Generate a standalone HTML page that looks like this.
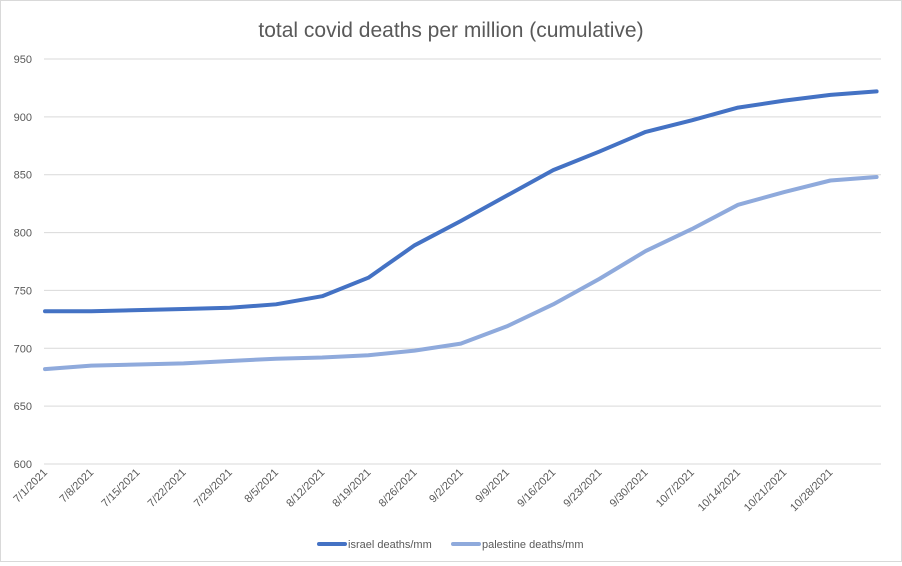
<!DOCTYPE html>
<html><head><meta charset="utf-8"><style>
body{margin:0;background:#fff;font-family:"Liberation Sans",sans-serif}
#wrap{position:relative;width:900px;height:560px;border:1px solid #d9d9d9;}
</style></head><body>
<div id="wrap">
<svg id="chart" width="900" height="560"></svg>
</div>
<script>
const yTicks=[600,650,700,750,800,850,900,950];
const days=[0,7,14,21,28,35,42,49,56,63,70,77,84,91,98,105,112,119,126];
const israel=[732,732,733,734,735,738,745,761,789,810,832,854,870,887,897,908,914,919,922];
const palestine=[682,685,686,687,689,691,692,694,698,704,719,738,760,784,803,824,835,845,848];
const xLabels=["7/1/2021","7/8/2021","7/15/2021","7/22/2021","7/29/2021","8/5/2021","8/12/2021","8/19/2021","8/26/2021","9/2/2021","9/9/2021","9/16/2021","9/23/2021","9/30/2021","10/7/2021","10/14/2021","10/21/2021","10/28/2021"];
const NS="http://www.w3.org/2000/svg";
const svg=document.getElementById('chart');
const x=d=>44+d*6.6;
const y=v=>463-(v-600)*(405/350);
function el(t,a,p){const e=document.createElementNS(NS,t);for(const k in a)e.setAttribute(k,a[k]);(p||svg).appendChild(e);return e;}
let t=el('text',{x:450,y:36,'text-anchor':'middle','font-size':21,fill:'#595959'});
t.textContent='total covid deaths per million (cumulative)';

yTicks.forEach(v=>{
 const g=el('line',{x1:43,x2:880,y1:y(v),y2:y(v),stroke:'#d9d9d9','stroke-width':1});
 
 const l=el('text',{x:31,y:y(v)+4,'text-anchor':'end','font-size':11,fill:'#595959'});
 l.textContent=v;
 
});
xLabels.forEach((s,i)=>{
 const xx=x(i*7)+3,yy=472;
 const l=el('text',{x:xx,y:yy,'text-anchor':'end','font-size':11,fill:'#595959',transform:`rotate(-45 ${xx} ${yy})`});
 l.textContent=s;
 
});
function series(vals,col,name){
 const p=el('polyline',{points:days.map((d,i)=>x(d)+','+y(vals[i])).join(' '),fill:'none',stroke:col,'stroke-width':4,'stroke-linejoin':'round','stroke-linecap':'round'});
 
}
series(palestine,'#8faadc','palestine-line');
series(israel,'#4472c4','israel-line');
[[318,'#4472c4','israel deaths/mm','legend-israel'],[452,'#8faadc','palestine deaths/mm','legend-palestine']].forEach(a=>{
 const g=el('g',{});
 
 el('line',{x1:a[0],x2:a[0]+26,y1:543,y2:543,stroke:a[1],'stroke-width':4,'stroke-linecap':'round'},g);
 const tx=el('text',{x:a[0]+29,y:547,'font-size':11,fill:'#595959'},g);tx.textContent=a[2];
});
</script>
</body></html>
